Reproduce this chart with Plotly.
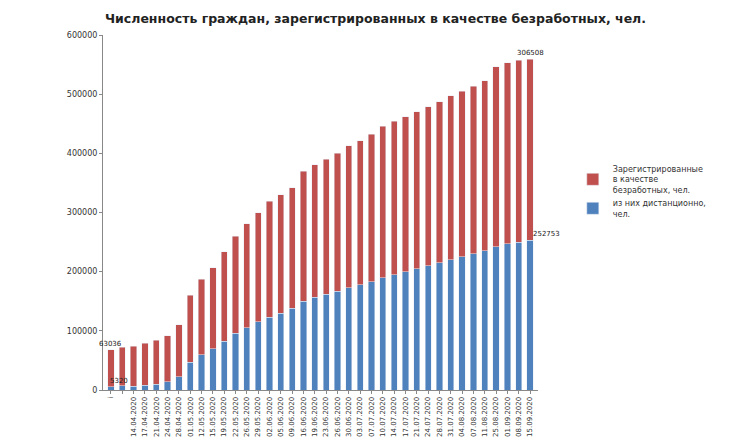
import plotly.graph_objects as go

dates = ["i", " ", "14.04.2020", "17.04.2020", "21.04.2020", "24.04.2020", "28.04.2020", "01.05.2020",
         "12.05.2020", "15.05.2020", "19.05.2020", "22.05.2020", "26.05.2020", "29.05.2020",
         "02.06.2020", "05.06.2020", "09.06.2020", "16.06.2020", "19.06.2020", "23.06.2020",
         "26.06.2020", "30.06.2020", "03.07.2020", "07.07.2020", "10.07.2020", "14.07.2020",
         "17.07.2020", "21.07.2020", "24.07.2020", "28.07.2020", "31.07.2020", "04.08.2020",
         "07.08.2020", "11.08.2020", "25.08.2020", "01.09.2020", "08.09.2020", "15.09.2020"]
remote = [5320, 7000, 6000, 8000, 10000, 14000, 22000, 47000, 60000, 70000, 82000, 96000,
          105000, 115000, 123000, 130000, 138000, 150000, 157000, 162000, 167000, 173000,
          178000, 183000, 190000, 195000, 200000, 205000, 210000, 215000, 220000, 225000,
          230000, 235000, 242000, 247000, 250000, 252753]
other = [63036, 65000, 68000, 71000, 74000, 78000, 88000, 113000, 127000, 137000, 152000, 164000,
         176000, 185000, 196000, 200000, 204000, 220000, 224000, 228000, 233000, 240000,
         243000, 249000, 256000, 259000, 262000, 265000, 269000, 272000, 277000, 280000,
         283000, 288000, 304000, 306000, 307000, 306508]

blue = "#4F81BD"
red = "#C0504D"
x = list(range(len(dates)))

fig = go.Figure()
fig.add_bar(x=x, y=remote, name="из них дистанционно,<br>чел.", marker_color=blue)
fig.add_bar(x=x, y=other, name="Зарегистрированные<br>в качестве<br>безработных, чел.", marker_color=red)

for i in (0, len(x) - 1):
    fig.add_annotation(x=x[i], y=remote[i] + other[i], text=str(other[i]), showarrow=False,
                       yshift=6, font=dict(size=7, color="#222"))
    fig.add_annotation(x=x[i], y=remote[i], text=str(remote[i]), showarrow=False,
                       yshift=6, xshift=8 if i == 0 else 16, font=dict(size=7, color="#222"))

fig.update_layout(
    width=735, height=441, barmode="stack", bargap=0.45,
    plot_bgcolor="white", paper_bgcolor="white",
    margin=dict(l=95, r=205, t=27, b=49),
    font=dict(family="DejaVu Sans", size=8, color="#333"),
    title=dict(text="<b>Численность граждан, зарегистрированных в качестве безработных, чел.</b>",
               x=0.5, xanchor="center", y=0.985, font=dict(size=12.5, color="#222")),
    legend=dict(x=1.08, y=0.56, yanchor="middle", traceorder="reversed", tracegroupgap=40,
                font=dict(size=8)),
)
fig.update_xaxes(tickmode="array", tickvals=x, ticktext=dates, tickangle=-90,
                 showline=True, linecolor="#888", ticks="outside", ticklen=3, tickcolor="#888",
                 range=[-0.7, len(x) - 0.3], tickfont=dict(size=7))
fig.update_yaxes(range=[0, 600000], dtick=100000, showgrid=False, showline=True,
                 linecolor="#888", ticks="outside", ticklen=3, tickcolor="#888",
                 tickformat="d", zeroline=False)

fig.write_html("out.html")
